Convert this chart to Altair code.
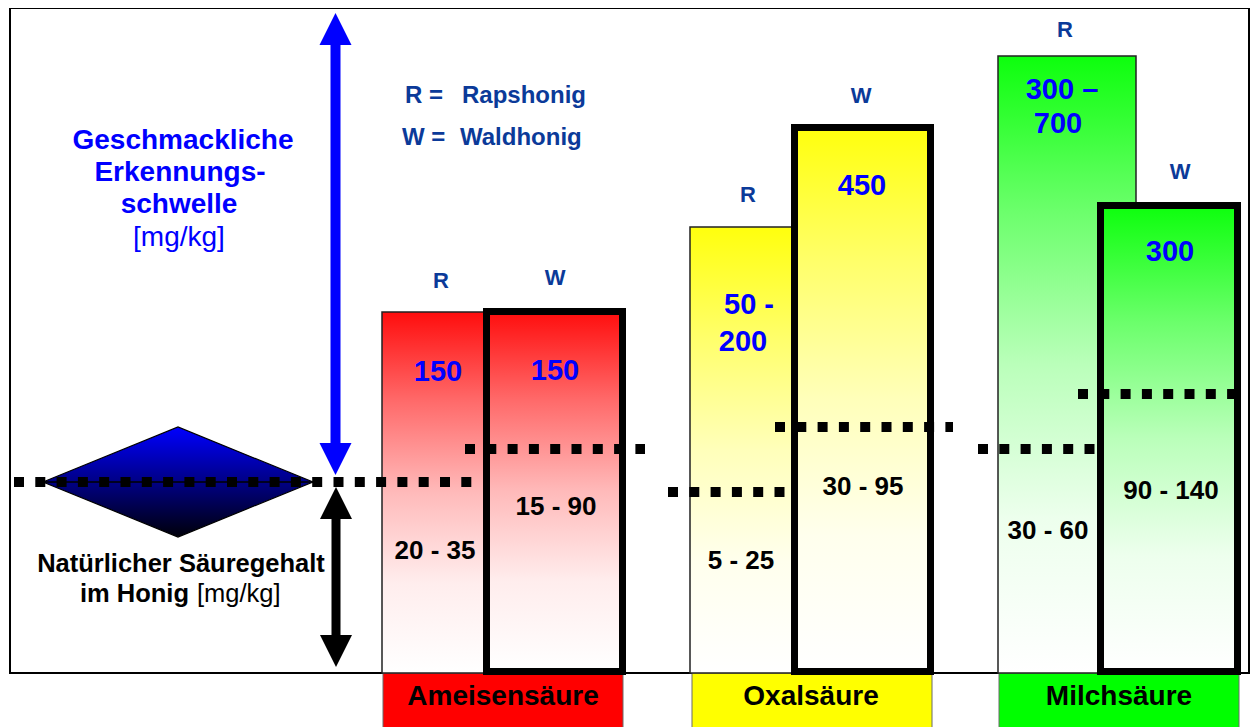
import altair as alt
import pandas as pd

FONT = "Liberation Sans"

# ---------------- data (schematic, heights measured above the base line) ----------------
acids = ["Ameisensäure", "Oxalsäure", "Milchsäure"]
acid_colors = ["#FF0000", "#FFFF00", "#00FF00"]
acid_label_x = [503, 811, 1119]
acid_box_left = [383, 692, 999]
acid_box_right = [623, 932, 1239]

honey_codes = ["R", "W"]
honey_names = ["Rapshonig", "Waldhonig"]

# Rapshonig (R) bars
r_left = [382, 690, 998]
r_right = [484, 793, 1136]
r_top = [361, 446, 617]
# Waldhonig (W) bars (outer edge of the thick frame)
w_left = [483, 791, 1097]
w_right = [626, 934, 1241]
w_top = [365, 549, 471]

# taste thresholds (blue numbers) – one entry per text line
thr_text = ["150", "150", "50 -", "200", "450", "300 –", "700", "300"]
thr_x = [438, 555, 749, 743, 862, 1062, 1058, 1170]
thr_y = [301, 302, 368, 331, 487, 583, 549, 421]

# natural acid content (black ranges)
nat_text = ["20 - 35", "15 - 90", "5 - 25", "30 - 95", "30 - 60", "90 - 140"]
nat_x = [435, 556, 741, 863, 1048, 1171]
nat_y = [122, 166, 112, 186, 142, 182]

# dotted natural-content levels
dot_level = [191, 224, 181, 246, 224, 279]
dot_from = [14, 465, 668, 775, 978, 1078]
dot_to = [472, 645, 786, 953, 1096, 1250]

# R / W letters above the bars
rw_text = ["R", "W", "R", "W", "R", "W"]
rw_x = [441, 555, 748, 861, 1065, 1180]
rw_y = [392, 395, 478, 577, 643, 501]

# ---------------- scales ----------------
W, H = 1242, 719
xs = alt.Scale(domain=[8, 1250], nice=False, zero=False)
ys = alt.Scale(domain=[-54, 665], nice=False, zero=False)


def X(f="x"):
    return alt.X(f"{f}:Q", scale=xs, axis=None)


def Y(f="y"):
    return alt.Y(f"{f}:Q", scale=ys, axis=None)


def mix(c, t):
    c = c.lstrip("#")
    r, g, b = int(c[0:2], 16), int(c[2:4], 16), int(c[4:6], 16)
    r = round(r + (255 - r) * t)
    g = round(g + (255 - g) * t)
    b = round(b + (255 - b) * t)
    return f"#{r:02x}{g:02x}{b:02x}"


def grad(c):
    stops = [(0.0, 0.05), (0.25, 0.42), (0.5, 0.73), (0.75, 0.93), (1.0, 1.0)]
    return alt.Gradient(
        gradient="linear", x1=0, x2=0, y1=0, y2=1,
        stops=[alt.GradientStop(offset=o, color=mix(c, t)) for o, t in stops],
    )


layers = []

# frame
frame = pd.DataFrame({"x": [10], "x2": [1249], "y": [0], "y2": [665]})
layers.append(
    alt.Chart(frame).mark_rect(fill="white", stroke="black", strokeWidth=2)
    .encode(x=X(), x2="x2:Q", y=Y(), y2="y2:Q")
)

# category label boxes
boxes = pd.DataFrame({"acid": acids, "x": acid_box_left, "x2": acid_box_right,
                      "y": [0] * 3, "y2": [-60] * 3})
layers.append(
    alt.Chart(boxes).mark_rect(stroke="#6b6b6b", strokeWidth=1)
    .encode(x=X(), x2="x2:Q", y=Y(), y2="y2:Q",
            fill=alt.Fill("acid:N", scale=alt.Scale(domain=acids, range=acid_colors), legend=None))
)

# R bars (thin frame) then W bars (thick frame)
for i, c in enumerate(acid_colors):
    rdf = pd.DataFrame({"x": [r_left[i]], "x2": [r_right[i]], "y": [0], "y2": [r_top[i]]})
    layers.append(
        alt.Chart(rdf).mark_rect(fill=grad(c), stroke="#222222", strokeWidth=1.5)
        .encode(x=X(), x2="x2:Q", y=Y(), y2="y2:Q")
    )
for i, c in enumerate(acid_colors):
    sw = 7
    wdf = pd.DataFrame({"x": [w_left[i] + sw / 2], "x2": [w_right[i] - sw / 2],
                        "y": [-2 + sw / 2], "y2": [w_top[i] - sw / 2]})
    layers.append(
        alt.Chart(wdf).mark_rect(fill=grad(c), stroke="black", strokeWidth=sw)
        .encode(x=X(), x2="x2:Q", y=Y(), y2="y2:Q")
    )

# diamond
diamond = pd.DataFrame({"x": [178], "y": [191]})
layers.append(
    alt.Chart(diamond).mark_point(
        shape="M-1,0L0,-0.4074L1,0L0,0.4074Z", size=72900, filled=True, opacity=1,
        fill=alt.Gradient(gradient="linear", x1=0, x2=0, y1=0, y2=1,
                          stops=[alt.GradientStop(offset=0, color="#0000FF"),
                                 alt.GradientStop(offset=1, color="#00000A")]),
        stroke="black", strokeWidth=1.2,
    ).encode(x=X(), y=Y())
)
layers.append(
    alt.Chart(pd.DataFrame({"x": [43], "x2": [313], "y": [191]}))
    .mark_rule(color="black", strokeWidth=1.5).encode(x=X(), x2="x2:Q", y=Y())
)

# dotted lines
dots = pd.DataFrame({"x": dot_from, "x2": dot_to, "y": dot_level})
layers.append(
    alt.Chart(dots).mark_rule(color="black", strokeWidth=10, strokeDash=[10, 11.3], strokeCap="butt")
    .encode(x=X(), x2="x2:Q", y=Y())
)

# arrows
shafts = pd.DataFrame({"x": [335.5, 336], "y": [628, 154], "y2": [230, 38],
                       "c": ["blue", "black"]})
layers.append(
    alt.Chart(shafts[shafts.c == "blue"]).mark_rule(color="#0000FF", strokeWidth=10, strokeCap="butt")
    .encode(x=X(), y=Y(), y2="y2:Q")
)
layers.append(
    alt.Chart(shafts[shafts.c == "black"]).mark_rule(color="black", strokeWidth=9, strokeCap="butt")
    .encode(x=X(), y=Y(), y2="y2:Q")
)
heads = [
    (335.5, 644, "M0,-1L1,1L-1,1Z", "#0000FF"),
    (335.5, 214, "M0,1L1,-1L-1,-1Z", "#0000FF"),
    (336, 170, "M0,-1L1,1L-1,1Z", "black"),
    (336, 22, "M0,1L1,-1L-1,-1Z", "black"),
]
for hx, hy, shp, col in heads:
    layers.append(
        alt.Chart(pd.DataFrame({"x": [hx], "y": [hy]}))
        .mark_point(shape=shp, size=1024, filled=True, fill=col, opacity=1, strokeWidth=0)
        .encode(x=X(), y=Y())
    )


# texts
def texts(df, size, color, weight="bold", align="center"):
    return alt.Chart(df).mark_text(
        font=FONT, fontSize=size, fontWeight=weight, color=color, align=align, baseline="middle"
    ).encode(x=X(), y=Y(), text="t:N")


DARK_BLUE = "#0b3a99"
BLUE = "#0000FF"

layers.append(texts(pd.DataFrame({"t": rw_text, "x": rw_x, "y": rw_y}), 22, DARK_BLUE))
layers.append(texts(pd.DataFrame({"t": thr_text, "x": thr_x, "y": thr_y}), 29, BLUE))
layers.append(texts(pd.DataFrame({"t": nat_text, "x": nat_x, "y": nat_y}), 26, "black"))
layers.append(texts(pd.DataFrame({"t": acids, "x": acid_label_x, "y": [-24] * 3}), 28, "black"))

legend_codes = pd.DataFrame({"t": [f"{c} =" for c in honey_codes], "x": [405, 402], "y": [577, 535]})
legend_names = pd.DataFrame({"t": honey_names, "x": [462, 460], "y": [577, 535]})
layers.append(texts(legend_codes, 24, DARK_BLUE, align="left"))
layers.append(texts(legend_names, 24, DARK_BLUE, align="left"))

title_lines = ["Geschmackliche", "Erkennungs-", "schwelle"]
layers.append(texts(pd.DataFrame({"t": title_lines, "x": [183, 180, 179], "y": [532, 500, 468]}), 28, BLUE))
layers.append(texts(pd.DataFrame({"t": ["[mg/kg]"], "x": [179], "y": [435]}), 28, BLUE, weight="normal"))

layers.append(texts(pd.DataFrame({"t": ["Natürlicher Säuregehalt"], "x": [181], "y": [109]}), 25.5, "black"))
layers.append(texts(pd.DataFrame({"t": ["im Honig"], "x": [189], "y": [79]}), 25.5, "black", align="right"))
layers.append(texts(pd.DataFrame({"t": ["[mg/kg]"], "x": [197], "y": [79]}), 25.5, "black",
                    weight="normal", align="left"))

chart = alt.layer(*layers).properties(
    width=W, height=H, autosize="none", padding=0, background="white"
).configure_view(stroke=None)

chart.save("out.html", embed_options={"renderer": "svg", "actions": False})
